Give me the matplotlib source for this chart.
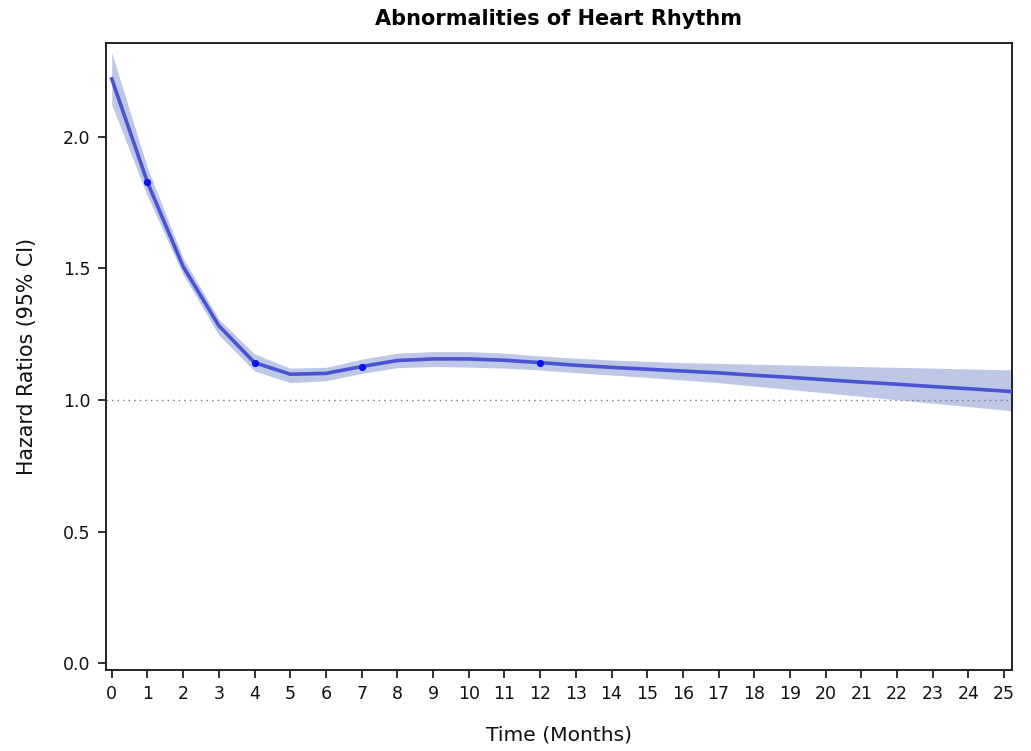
import matplotlib
matplotlib.use("Agg")
import matplotlib.pyplot as plt

# Hazard ratio estimates over follow-up time (months) with 95% CI
months = [0, 1, 2, 3, 4, 5, 6, 7, 8, 9, 10, 11, 12, 13, 14, 15, 16, 17,
          18, 19, 20, 21, 22, 23, 24, 25, 25.3]
hazard_ratio = [2.220, 1.827, 1.507, 1.282, 1.142, 1.098, 1.101, 1.127, 1.150,
                1.156, 1.156, 1.151, 1.142, 1.132, 1.124, 1.117, 1.110, 1.103,
                1.094, 1.086, 1.077, 1.068, 1.060, 1.051, 1.043, 1.034, 1.031]
ci_upper = [2.319, 1.882, 1.539, 1.307, 1.175, 1.121, 1.124, 1.155, 1.178,
            1.184, 1.184, 1.178, 1.167, 1.159, 1.152, 1.147, 1.142, 1.139,
            1.136, 1.133, 1.130, 1.127, 1.124, 1.121, 1.118, 1.115, 1.114]
ci_lower = [2.122, 1.774, 1.476, 1.247, 1.110, 1.066, 1.073, 1.101, 1.123,
            1.127, 1.125, 1.121, 1.114, 1.104, 1.095, 1.086, 1.076, 1.066,
            1.053, 1.040, 1.027, 1.014, 1.001, 0.988, 0.975, 0.962, 0.958]
marked_months = [1, 4, 7, 12]
x_ticks = list(range(0, 26))
y_ticks = [0.0, 0.5, 1.0, 1.5, 2.0]

fig = plt.figure(figsize=(10.31, 7.51), dpi=100)
ax = fig.add_axes([0.1025, 0.1079, 0.8791, 0.8348])

ax.fill_between(months, ci_lower, ci_upper, color="#bcc8e6", linewidth=0, zorder=1)
ax.plot(months, hazard_ratio, color="#4b53d2", linewidth=2.6, zorder=3,
        solid_joinstyle="miter")
marked_vals = [hazard_ratio[months.index(m)] for m in marked_months]
ax.plot(marked_months, marked_vals, linestyle="none", marker="o", markersize=4.2,
        color="#0a14f0", zorder=4)
ax.axhline(1.0, color="#777777", linestyle=(0, (1, 3)), linewidth=1.0, zorder=2)

ax.set_xlim(-0.17, 25.22)
ax.set_ylim(-0.0255, 2.356)
ax.set_xticks(x_ticks)
ax.set_xticklabels([str(t) for t in x_ticks])
ax.set_yticks(y_ticks)
ax.set_yticklabels([f"{t:.1f}" for t in y_ticks])

for side in ax.spines.values():
    side.set_linewidth(1.4)
    side.set_color("#222222")

ax.tick_params(axis="both", direction="out", length=6, width=1.3,
               labelsize=12.5, color="#222222", labelcolor="#111111", pad=5)

ax.set_xlabel("Time (Months)", fontsize=14.6, labelpad=16, color="#111111")
ax.set_ylabel("Hazard Ratios (95% CI)", fontsize=14.8, labelpad=19, color="#111111")
ax.set_title("Abnormalities of Heart Rhythm", fontsize=15, fontweight="bold",
             pad=13)

fig.savefig("out.png", dpi=100, facecolor="white")
